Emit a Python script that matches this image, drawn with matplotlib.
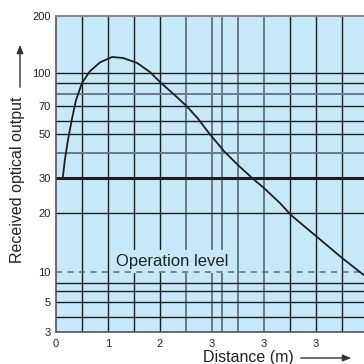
import numpy as np
import matplotlib
matplotlib.use("Agg")
import matplotlib.pyplot as plt

plt.rcParams['font.family'] = ['Liberation Sans', 'DejaVu Sans']

# ---- data ----
dist = [0.13, 0.17, 0.23, 0.31, 0.385, 0.5, 0.65, 0.85, 1.08, 1.29, 1.56, 1.81,
        2.02, 2.27, 2.52, 2.73, 2.94, 3.23, 3.5, 3.79, 4.0, 4.31, 4.52, 5.02,
        5.5, 5.92]
output = [30, 36.9, 46.6, 61.8, 74.8, 90, 102, 114, 121.5, 120, 113, 101,
          90, 79.6, 69.6, 61.5, 50.7, 40.9, 34.8, 29.7, 26.7, 22.4, 19.5, 15.1,
          11.8, 9.4]
operation_level = 10

x_ticks = [0, 1, 2, 3, 4, 5, 6]
x_ticklabels = ["0", "1", "2", "3", "3", "3", "6"]
y_ticks = [3, 5, 10, 20, 30, 50, 70, 100, 200]
y_ticklabels = ["3", "5", "10", "20", "30", "50", "70", "100", "200"]

v_dark = [0.5, 1, 1.5, 2, 4.5, 5, 5.5]
v_gray = [2.5, 3, 3.2, 3.5, 4]
h_dark = [100, 90, 70, 60, 50, 20, 8, 7, 5, 4]
h_gray = [80, 40]
h_thick = [30]

# ---- custom (chart-paper) y scale ----
knot_vals = np.array([3, 4, 5, 7, 8, 10, 20, 30, 40, 50, 60, 70, 80, 90, 100, 200], float)
knot_pos = np.array([0, 15, 30, 41, 49, 60, 119, 154, 179, 198, 211, 226, 238, 249, 259, 316], float)
lk = np.log10(knot_vals)

def fwd(v):
    v = np.clip(np.asarray(v, float), 1e-3, None)
    return np.interp(np.log10(v), lk, knot_pos)

def inv(p):
    return 10 ** np.interp(np.asarray(p, float), knot_pos, lk)

BG = '#c7e8f8'
DARK = '#1e1e1e'
GRAY = '#6b7c87'

W = H = 364
fig = plt.figure(figsize=(3.64, 3.64), dpi=100)
ax = fig.add_axes([56 / W, (H - 332) / H, (52 * 6.3) / W, (332 - 16) / H])
ax.set_facecolor(BG)
ax.set_yscale('function', functions=(fwd, inv))
ax.set_ylim(3, 200)
ax.set_xlim(0, 6.3)

for v in v_dark:
    ax.axvline(v, color=DARK, lw=1.0, zorder=1)
for v in v_gray:
    ax.axvline(v, color=GRAY, lw=1.4, zorder=1)
for h in h_dark:
    ax.axhline(h, color=DARK, lw=1.0, zorder=1)
for h in h_gray:
    ax.axhline(h, color=GRAY, lw=1.4, zorder=1)
for h in h_thick:
    ax.axhline(h, color=DARK, lw=2.2, zorder=1)

ax.axhline(operation_level, color='#5e6e78', lw=1.1, ls=(0, (4, 3.5)), zorder=4)
ax.text(2.23, 11.3, 'Operation level', ha='center', va='center', fontsize=12,
        color='#222222', zorder=3,
        bbox=dict(boxstyle='square,pad=0.25', fc=BG, ec='none'))

ax.plot(dist, output, color=DARK, lw=1.3, zorder=5,
        solid_joinstyle='round', solid_capstyle='round')

ax.set_xticks(x_ticks)
ax.set_xticklabels(x_ticklabels, fontsize=8, color='#222222')
ax.set_yticks(y_ticks)
ax.set_yticklabels(y_ticklabels, fontsize=8, color='#222222')
ax.minorticks_off()
ax.tick_params(length=0, pad=4)
ax.tick_params(axis='x', pad=5)

ax.spines['top'].set_color('#888888')
ax.spines['top'].set_linewidth(1.5)
for s in ['left', 'bottom']:
    ax.spines[s].set_color('#555555')
    ax.spines[s].set_linewidth(1.2)
ax.spines['right'].set_visible(False)

# axis labels with arrows (figure pixel coordinates)
fig.text(18 / W, 1 - 180 / H, 'Received optical output', rotation=90,
         ha='center', va='center', fontsize=11.5, color='#222222')
fig.patches.append(matplotlib.patches.FancyArrowPatch(
    (20 / W, 1 - 90 / H), (20 / W, 1 - 42 / H), transform=fig.transFigure,
    arrowstyle='-|>,head_length=5,head_width=2', color='#333333', lw=1.0,
    mutation_scale=1))
fig.text(248 / W, 1 - 362 / H, 'Distance (m)', ha='center', va='baseline',
         fontsize=11.5, color='#222222')
fig.patches.append(matplotlib.patches.FancyArrowPatch(
    (298 / W, 1 - 358 / H), (354 / W, 1 - 358 / H), transform=fig.transFigure,
    arrowstyle='-|>,head_length=5,head_width=2', color='#333333', lw=1.0,
    mutation_scale=1))

fig.savefig('out.png', dpi=100, facecolor='white')
